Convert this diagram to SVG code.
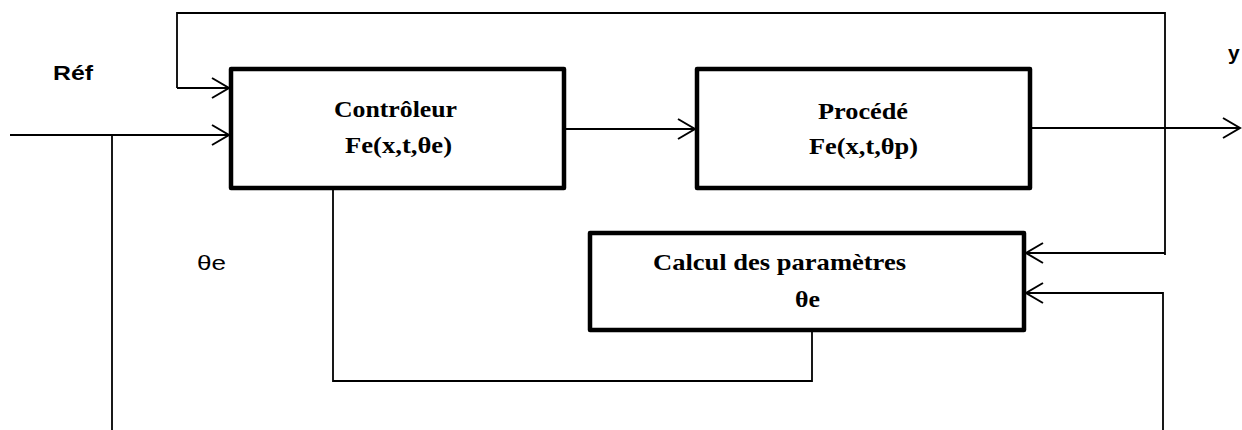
<svg xmlns="http://www.w3.org/2000/svg" width="1242" height="430" viewBox="0 0 1242 430">
  <defs>
    <marker id="arrow" markerUnits="userSpaceOnUse" viewBox="-19 -12 21 24" markerWidth="21" markerHeight="24" refX="0" refY="0" orient="auto">
      <path d="M-17,-10 L0,0 L-17,10" fill="none" stroke="#000" stroke-width="2"/>
    </marker>
    <style>
      .box { fill: #fff; stroke: #000; stroke-width: 4.5; stroke-linejoin: round; }
      .wire { fill: none; stroke: #000; stroke-width: 1.8; }
      .arr { marker-end: url(#arrow); }
      .blk { font-family: "Liberation Serif", "Times New Roman", serif; font-weight: bold; font-size: 24px; fill: #000; }
      .lbl { font-family: "Liberation Sans", Arial, sans-serif; font-weight: bold; font-size: 21px; fill: #000; }
      .lbl2 { font-family: "Liberation Sans", Arial, sans-serif; font-size: 21px; fill: #000; }
    </style>
  </defs>
  <rect width="1242" height="430" fill="#fff"/>

  <g id="connectors">
    <path class="wire" d="M1165,255 V13 H177 V88"/>
    <path class="wire arr" d="M177,88 H229"/>
    <path class="wire arr" d="M1165,253 H1026"/>
    <path class="wire arr" d="M10,135 H229"/>
    <path class="wire" d="M112,135 V430"/>
    <path class="wire arr" d="M1163,430 V293 H1026"/>
    <path class="wire arr" d="M564,129 H695"/>
    <path class="wire arr" d="M1030,128 H1240"/>
    <path class="wire" d="M812,331 V381 H333 V189"/>
  </g>

  <g id="controleur">
    <rect class="box" x="231" y="69" width="333" height="119"/>
    <text class="blk" x="334" y="117" textLength="123" lengthAdjust="spacingAndGlyphs">Contrôleur</text>
    <text class="blk" x="345" y="153" textLength="107" lengthAdjust="spacingAndGlyphs">Fe(x,t,θe)</text>
  </g>

  <g id="procede">
    <rect class="box" x="697" y="69" width="333" height="119"/>
    <text class="blk" x="818" y="119" textLength="90" lengthAdjust="spacingAndGlyphs">Procédé</text>
    <text class="blk" x="809" y="154" textLength="109" lengthAdjust="spacingAndGlyphs">Fe(x,t,θp)</text>
  </g>

  <g id="calcul">
    <rect class="box" x="590" y="233" width="434" height="97"/>
    <text class="blk" x="653" y="270" textLength="253" lengthAdjust="spacingAndGlyphs">Calcul des paramètres</text>
    <text class="blk" x="795" y="307" textLength="25" lengthAdjust="spacingAndGlyphs">θe</text>
  </g>

  <g id="labels">
    <text class="lbl" x="53" y="80" textLength="40" lengthAdjust="spacingAndGlyphs">Réf</text>
    <text class="lbl" x="1228" y="60">y</text>
    <text class="lbl2" x="197" y="270" textLength="29" lengthAdjust="spacingAndGlyphs">θe</text>
  </g>
</svg>
